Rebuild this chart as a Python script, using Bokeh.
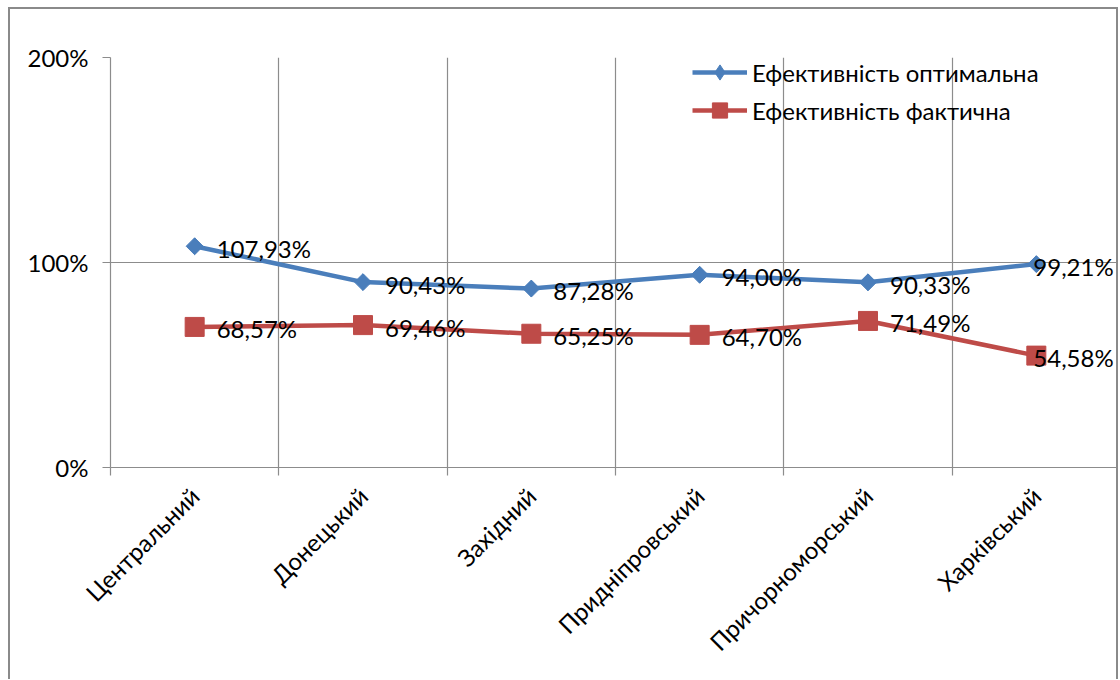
import math
from bokeh.plotting import figure
from bokeh.models import ColumnDataSource, Range1d, FixedTicker, PrintfTickFormatter, Legend
from bokeh.core.properties import value
from bokeh.embed import file_html
from bokeh.resources import INLINE

categories = ["Центральний", "Донецький", "Західний", "Придніпровський", "Причорноморський", "Харківський"]
optimal = [107.93, 90.43, 87.28, 94.00, 90.33, 99.21]
actual = [68.57, 69.46, 65.25, 64.70, 71.49, 54.58]
series_names = ["Ефективність оптимальна", "Ефективність фактична"]
y_ticks = [0, 100, 200]

FONT = "Lato"
BLUE = "#4A7EBB"
RED = "#BE4B48"
GRID = "#8C8C8C"

xs = [i + 0.5 for i in range(len(categories))]
label_dx = [22] * (len(categories) - 1) + [-3]

def fmt(v):
    return f"{v:.2f}".replace(".", ",") + "%"

src_opt = ColumnDataSource(dict(x=xs, y=optimal, lab=[fmt(v) for v in optimal], dx=label_dx))
src_act = ColumnDataSource(dict(x=xs, y=actual, lab=[fmt(v) for v in actual], dx=label_dx))

p = figure(width=1110, height=672, output_backend="svg", toolbar_location=None,
           x_range=Range1d(0, len(categories)), y_range=Range1d(0, 200),
           min_border_left=100, min_border_top=48, min_border_right=0, min_border_bottom=214)
p.styles = {"border-left": "2px solid #8a8a8a", "border-top": "2px solid #8a8a8a",
            "border-right": "2px solid #8a8a8a", "box-sizing": "border-box",
            "margin-left": "8px", "margin-top": "7px"}
p.outline_line_color = None
p.background_fill_color = "white"
p.border_fill_color = "white"

# grid
p.xgrid.ticker = FixedTicker(ticks=list(range(len(categories) + 1)))
p.ygrid.ticker = FixedTicker(ticks=y_ticks)
p.xgrid.grid_line_color = GRID
p.ygrid.grid_line_color = GRID
p.xgrid.grid_line_width = 1.2
p.ygrid.grid_line_width = 1.2

# x axis
xa = p.xaxis[0]
xa.ticker = FixedTicker(ticks=xs, minor_ticks=list(range(len(categories) + 1)))
xa.major_label_overrides = {x: c for x, c in zip(xs, categories)}
xa.major_label_orientation = math.pi / 4
xa.major_tick_out = 0
xa.major_tick_in = 0
xa.minor_tick_out = 8
xa.minor_tick_in = 0
xa.minor_tick_line_color = GRID
xa.minor_tick_line_width = 1.2
xa.axis_line_color = GRID
xa.axis_line_width = 1.2
xa.major_label_text_font = FONT
xa.major_label_text_font_size = "24px"
xa.major_label_text_color = "black"
xa.major_label_standoff = 16

# y axis
ya = p.yaxis[0]
ya.ticker = FixedTicker(ticks=y_ticks)
ya.formatter = PrintfTickFormatter(format="%d%%")
ya.minor_tick_line_color = None
ya.major_tick_out = 8
ya.major_tick_in = 0
ya.major_tick_line_color = GRID
ya.major_tick_line_width = 1.2
ya.axis_line_color = GRID
ya.axis_line_width = 1.2
ya.major_label_text_font = FONT
ya.major_label_text_font_size = "24px"
ya.major_label_text_color = "black"
ya.major_label_standoff = 14

# series
l1 = p.line("x", "y", source=src_opt, line_color=BLUE, line_width=4.5)
d1 = p.scatter("x", "y", source=src_opt, marker="diamond", size=16,
               fill_color=BLUE, line_color=BLUE)
m1 = p.scatter("x", "y", source=src_opt, marker="square", size=12, angle=math.pi / 4,
               fill_color=BLUE, line_color=BLUE)
l2 = p.line("x", "y", source=src_act, line_color=RED, line_width=4.5)
m2 = p.scatter("x", "y", source=src_act, marker="square", size=19,
               fill_color=RED, line_color=RED)

for src in (src_opt, src_act):
    p.text("x", "y", text="lab", source=src, x_offset="dx", y_offset=2,
           text_font=value(FONT), text_font_size="24px", text_color="black",
           text_baseline="middle", text_align="left")

legend = Legend(items=[(series_names[0], [l1, d1]), (series_names[1], [l2, m2])],
                location=(582, 338), orientation="vertical")
legend.background_fill_alpha = 0
legend.border_line_alpha = 0
legend.padding = 0
legend.margin = 0
legend.spacing = 0
legend.label_height = 38
legend.glyph_height = 38
legend.glyph_width = 55
legend.label_standoff = 5
legend.label_text_font = FONT
legend.label_text_font_size = "24px"
legend.label_text_color = "black"
p.add_layout(legend, "center")

open("out.html", "w").write(file_html(p, INLINE))
